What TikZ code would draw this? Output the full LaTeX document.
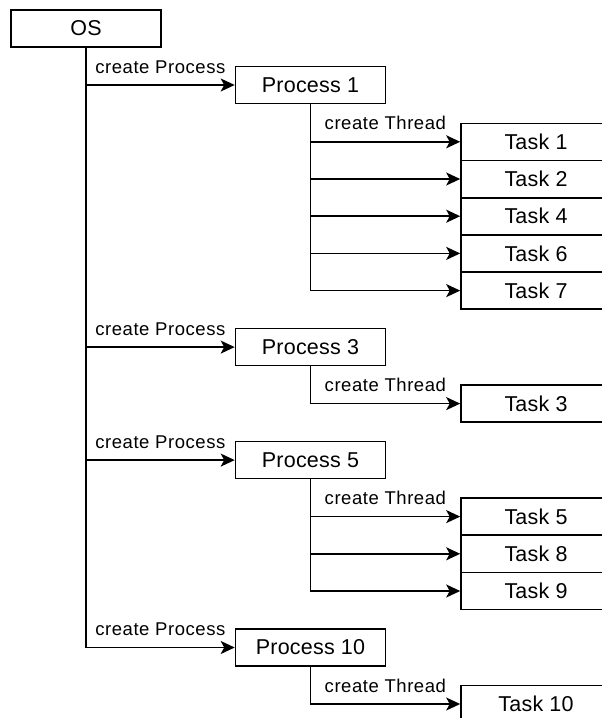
\documentclass[tikz,border=0pt]{standalone}
\usepackage{fontspec}
\setmainfont{Liberation Sans}
\newfontfamily\lblfont[LetterSpace=3]{Liberation Sans}
\newfontfamily\boxfont[LetterSpace=1]{Liberation Sans}
\usetikzlibrary{arrows.meta}
\begin{document}
\begin{tikzpicture}[x=1pt,y=-1pt,
  box/.style={draw, line width=1.6pt, minimum width=150pt, minimum height=37pt, inner sep=0pt,
    font=\boxfont\fontsize{21.5}{25}\selectfont},
  conn/.style={line width=1.6pt, -{Stealth[length=14pt,width=13pt,inset=3.5pt]}},
  lbl/.style={font=\lblfont\fontsize{18.5}{21}\selectfont, inner sep=0pt, anchor=base}]
\path[use as bounding box] (0,0) rectangle (602,718);
\clip (0,0) rectangle (602,718);
\node[box] (os) at (86,28.5) {OS};
\node[box] (p1) at (310.5,85) {Process 1};
\node[box] (t1) at (536,141.8) {Task 1};
\node[box] (t2) at (536,179) {Task 2};
\node[box] (t4) at (536,216.2) {Task 4};
\node[box] (t6) at (536,253.4) {Task 6};
\node[box] (t7) at (536,290.6) {Task 7};
\node[box] (p3) at (310.5,347.1) {Process 3};
\node[box] (t3) at (536,403.6) {Task 3};
\node[box] (p5) at (310.5,460.1) {Process 5};
\node[box] (t5) at (536,516.6) {Task 5};
\node[box] (t8) at (536,553.8) {Task 8};
\node[box] (t9) at (536,591) {Task 9};
\node[box] (p10) at (310.5,647.5) {Process 10};
\node[box] (t10) at (536,704) {Task 10};
\foreach \p in {p1,p3,p5,p10}
  \draw[conn] (os.south) |- (\p.west) node[lbl,pos=0.75,yshift=12pt]{create Process};
\draw[conn] (p1.south) |- (t1.west) node[lbl,pos=0.75,yshift=12pt]{create Thread};
\foreach \t in {t2,t4,t6,t7}
  \draw[conn] (p1.south) |- (\t.west);
\draw[conn] (p3.south) |- (t3.west) node[lbl,pos=0.75,yshift=12pt]{create Thread};
\draw[conn] (p5.south) |- (t5.west) node[lbl,pos=0.75,yshift=12pt]{create Thread};
\foreach \t in {t8,t9}
  \draw[conn] (p5.south) |- (\t.west);
\draw[conn] (p10.south) |- (t10.west) node[lbl,pos=0.75,yshift=12pt]{create Thread};
\end{tikzpicture}
\end{document}
